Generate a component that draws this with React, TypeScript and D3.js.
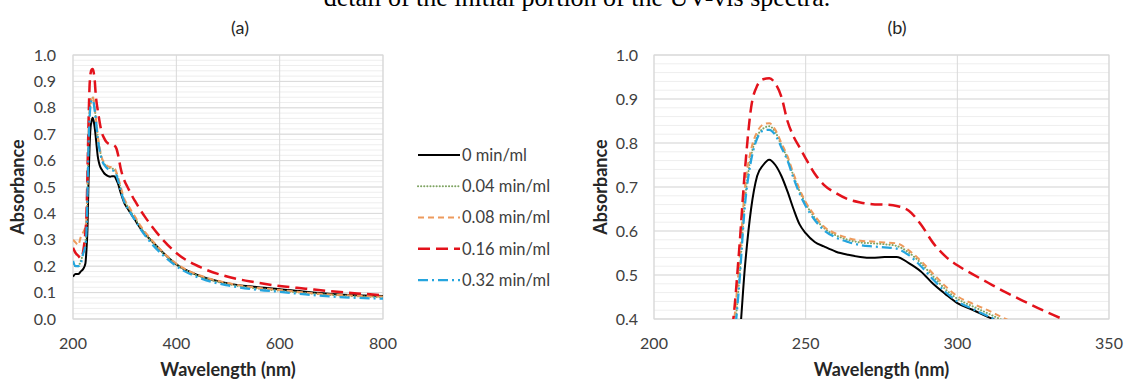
import React from 'react';
import * as d3 from 'd3';

// ---------- DATA ----------
const wavelengths = [200, 205, 210, 215, 220, 224, 226, 228, 230, 232, 234, 236, 238, 240, 242, 244, 246, 248, 250, 253, 256, 260, 264, 268, 272, 276, 280, 284, 288, 292, 296, 300, 305, 310, 315, 320, 330, 340, 350, 375, 400, 450, 500, 550, 600, 650, 700, 750, 800];

const abs0 = [0.16, 0.17, 0.17, 0.18, 0.19, 0.21, 0.26, 0.34, 0.52, 0.65, 0.725, 0.75, 0.762, 0.75, 0.725, 0.69, 0.65, 0.615, 0.595, 0.575, 0.565, 0.553, 0.546, 0.541, 0.539, 0.541, 0.541, 0.527, 0.508, 0.48, 0.457, 0.436, 0.421, 0.405, 0.39, 0.375, 0.345, 0.32, 0.3, 0.25, 0.207, 0.16, 0.135, 0.122, 0.113, 0.103, 0.095, 0.09, 0.087];
const abs004 = [0.21, 0.2, 0.2, 0.22, 0.25, 0.29, 0.34, 0.48, 0.67, 0.77, 0.815, 0.833, 0.838, 0.825, 0.795, 0.765, 0.725, 0.69, 0.662, 0.63, 0.607, 0.59, 0.58, 0.574, 0.572, 0.57, 0.566, 0.551, 0.527, 0.497, 0.468, 0.446, 0.429, 0.413, 0.397, 0.382, 0.35, 0.323, 0.3, 0.248, 0.207, 0.158, 0.132, 0.117, 0.107, 0.098, 0.091, 0.086, 0.083];
const abs008 = [0.3, 0.29, 0.28, 0.31, 0.33, 0.35, 0.38, 0.52, 0.7, 0.785, 0.825, 0.842, 0.845, 0.83, 0.8, 0.77, 0.73, 0.695, 0.666, 0.635, 0.61, 0.594, 0.584, 0.578, 0.576, 0.574, 0.572, 0.556, 0.532, 0.503, 0.475, 0.452, 0.435, 0.42, 0.403, 0.388, 0.355, 0.328, 0.305, 0.252, 0.21, 0.162, 0.136, 0.12, 0.11, 0.1, 0.093, 0.088, 0.085];
const abs016 = [0.27, 0.25, 0.24, 0.23, 0.26, 0.33, 0.39, 0.55, 0.74, 0.88, 0.93, 0.945, 0.947, 0.935, 0.905, 0.85, 0.815, 0.79, 0.765, 0.73, 0.705, 0.686, 0.672, 0.665, 0.661, 0.66, 0.657, 0.646, 0.615, 0.573, 0.543, 0.522, 0.502, 0.483, 0.464, 0.447, 0.414, 0.385, 0.358, 0.298, 0.25, 0.193, 0.16, 0.14, 0.125, 0.115, 0.105, 0.097, 0.09];
const abs032 = [0.22, 0.2, 0.2, 0.21, 0.25, 0.28, 0.33, 0.47, 0.66, 0.76, 0.81, 0.828, 0.83, 0.818, 0.79, 0.76, 0.72, 0.685, 0.657, 0.625, 0.602, 0.585, 0.575, 0.568, 0.565, 0.563, 0.56, 0.545, 0.52, 0.49, 0.462, 0.44, 0.423, 0.407, 0.39, 0.375, 0.343, 0.315, 0.29, 0.24, 0.2, 0.152, 0.127, 0.112, 0.103, 0.093, 0.085, 0.08, 0.077];

const seriesNames = ['0 min/ml', '0.04 min/ml', '0.08 min/ml', '0.16 min/ml', '0.32 min/ml'];
const seriesValues = [abs0, abs004, abs008, abs016, abs032];

const xTicksA = [200, 400, 600, 800];
const yTicksA = [0, 0.1, 0.2, 0.3, 0.4, 0.5, 0.6, 0.7, 0.8, 0.9, 1.0];
const xTicksB = [200, 250, 300, 350];
const yTicksB = [0.4, 0.5, 0.6, 0.7, 0.8, 0.9, 1.0];

const captionText = 'detail of the initial portion of the UV-vis spectra.';
const panelTitles = ['(a)', '(b)'];
const xAxisTitle = 'Wavelength (nm)';
const yAxisTitle = 'Absorbance';

// ---------- STYLES ----------
const styles = [
  { color: '#000000', width: 2, dash: 'none', cap: 'butt' },
  { color: '#7FA463', width: 2, dash: '0.1 3', cap: 'round' },
  { color: '#EE9A5C', width: 2, dash: '6 4', cap: 'butt' },
  { color: '#E3121B', width: 2.5, dash: '12 6', cap: 'butt' },
  { color: '#25A5DE', width: 2.25, dash: '10 4 2 4', cap: 'butt' },
];

const FONT = 'Lato, "Open Sans", sans-serif';

type PanelProps = {
  id: string;
  left: number; right: number; top: number; bottom: number;
  xDomain: [number, number]; yDomain: [number, number];
  xTicks: number[]; yTicks: number[];
  yLabelX: number; yTickEnd: number;
  title: string; titleX: number;
};

function Panel(p: PanelProps) {
  const x = d3.scaleLinear().domain(p.xDomain).range([p.left, p.right]);
  const y = d3.scaleLinear().domain(p.yDomain).range([p.bottom, p.top]);
  const minorTicks = d3.range(p.yDomain[0], p.yDomain[1] + 1e-9, 0.02);
  const line = d3.line<[number, number]>()
    .x(d => x(d[0]))
    .y(d => y(d[1]))
    .curve(d3.curveMonotoneX);
  return (
    <g>
      <defs>
        <clipPath id={p.id}>
          <rect x={p.left} y={p.top} width={p.right - p.left} height={p.bottom - p.top} />
        </clipPath>
      </defs>
      {minorTicks.map((t, i) => (
        <line key={'mn' + i} x1={p.left} x2={p.right} y1={y(t)} y2={y(t)} stroke="#EEEEEE" strokeWidth={1} />
      ))}
      {p.yTicks.map((t, i) => (
        <line key={'my' + i} x1={p.left} x2={p.right} y1={y(t)} y2={y(t)} stroke="#D9D9D9" strokeWidth={1} />
      ))}
      {p.xTicks.map((t, i) => (
        <line key={'mx' + i} x1={x(t)} x2={x(t)} y1={p.top} y2={p.bottom} stroke="#D9D9D9" strokeWidth={1} />
      ))}
      <rect x={p.left} y={p.top} width={p.right - p.left} height={p.bottom - p.top} fill="none" stroke="#D9D9D9" strokeWidth={1} />
      <g clipPath={`url(#${p.id})`}>
        {seriesValues.map((vals, si) => {
          const pts = wavelengths.map((w, i) => [w, vals[i]] as [number, number]);
          const st = styles[si];
          return (
            <path key={si} d={line(pts) || ''} fill="none" stroke={st.color} strokeWidth={st.width}
              strokeDasharray={st.dash} strokeLinecap={st.cap as any} strokeLinejoin="round" />
          );
        })}
      </g>
      {p.yTicks.map((t, i) => (
        <text key={'ty' + i} x={p.yTickEnd} y={y(t)} dy="0.35em" textAnchor="end" fontSize={16} fill="#404040" fontFamily={FONT}>
          {t.toFixed(1)}
        </text>
      ))}
      {p.xTicks.map((t, i) => (
        <text key={'tx' + i} x={x(t)} y={349} textAnchor="middle" fontSize={16} fill="#404040" fontFamily={FONT}>
          {t}
        </text>
      ))}
      <text x={(p.left + p.right) / 2} y={376} textAnchor="middle" fontSize={18} fontWeight="bold" fill="#262626" fontFamily={FONT}>
        {xAxisTitle}
      </text>
      <text transform={`translate(${p.yLabelX},${(p.top + p.bottom) / 2}) rotate(-90)`} textAnchor="middle" dy="0.35em"
        fontSize={18} fontWeight="bold" fill="#262626" fontFamily={FONT}>
        {yAxisTitle}
      </text>
      <text x={p.titleX} y={34} textAnchor="middle" fontSize={18} fill="#262626" fontFamily={FONT}>
        {p.title}
      </text>
    </g>
  );
}

function Legend() {
  const rowY = d3.scaleLinear().domain([0, 4]).range([155, 280]);
  return (
    <g>
      {seriesNames.map((name, i) => {
        const st = styles[i];
        const yy = rowY(i);
        return (
          <g key={i}>
            <line x1={418} x2={460} y1={yy} y2={yy} stroke={st.color} strokeWidth={st.width}
              strokeDasharray={st.dash} strokeLinecap={st.cap as any} />
            <text x={462} y={yy} dy="0.35em" fontSize={16.5} fill="#404040" fontFamily={FONT}>{name}</text>
          </g>
        );
      })}
    </g>
  );
}

export default function App() {
  return (
    <svg width={1138} height={380} style={{ position: 'absolute', left: 0, top: 0, background: '#fff' }}>
      <rect width={1138} height={380} fill="#ffffff" />
      <text x={577} y={6} textAnchor="middle" fontSize={26} fill="#000" fontFamily='"Liberation Serif", "DejaVu Serif", serif'>
        {captionText}
      </text>
      <Panel id="clipA" left={73} right={383} top={55} bottom={319}
        xDomain={[200, 800]} yDomain={[0, 1]} xTicks={xTicksA} yTicks={yTicksA}
        yLabelX={18} yTickEnd={56} title={panelTitles[0]} titleX={240} />
      <Panel id="clipB" left={654} right={1109} top={55} bottom={319}
        xDomain={[200, 350]} yDomain={[0.4, 1]} xTicks={xTicksB} yTicks={yTicksB}
        yLabelX={601} yTickEnd={638} title={panelTitles[1]} titleX={897} />
      <Legend />
    </svg>
  );
}
